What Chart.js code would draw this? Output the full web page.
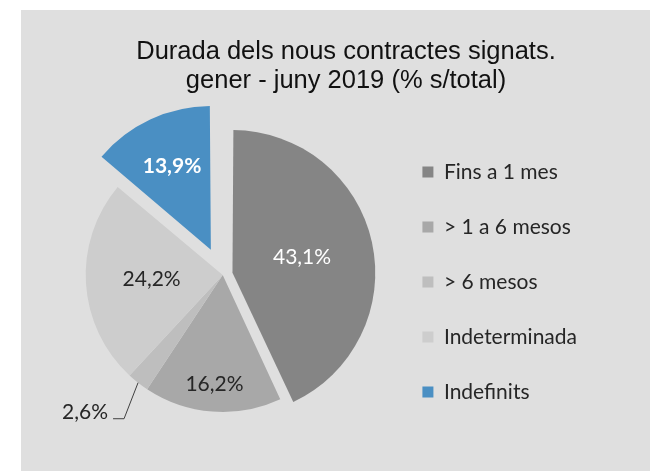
<!DOCTYPE html>
<html>
<head>
<meta charset="utf-8">
<script src="https://cdn.jsdelivr.net/npm/chart.js@4/dist/chart.umd.min.js"></script>
<style>
  html, body { margin: 0; padding: 0; background: #fff; overflow: hidden; }
  #panel {
    position: absolute;
    left: 21px;
    top: 10px;
    width: 629px;
    height: 461px;
    background: #dfdfdf;
  }
</style>
</head>
<body>
<div id="panel"><canvas id="durationChart"></canvas></div>
<script>
// Dades
const titleLines = ['Durada dels nous contractes signats.', 'gener - juny 2019 (% s/total)'];
const categories = ['Fins a 1 mes', '> 1 a 6 mesos', '> 6 mesos', 'Indeterminada', 'Indefinits'];
const shares = [43.1, 16.2, 2.6, 24.2, 13.9];

const sliceColors = ['#858585', '#a8a8a8', '#bebebe', '#cdcdcd', '#4a8fc3'];
// Chart.js moves an arc by offset / 4 (and grows it a bit too)
const sliceOffsets = [40, 0, 0, 0, 112];

// where each percentage sits: fraction of the radius, or a leader line for the thin slice
const labelPlacement = [
  { r: 0.52, color: '#ffffff', weight: 'normal' },
  { r: 0.80, color: '#262626', weight: 'normal' },
  { leader: { dx: -14, dy: 36, run: 11 }, color: '#262626', weight: 'normal' },
  { r: 0.52, color: '#262626', weight: 'normal' },
  { r: 0.67, color: '#ffffff', weight: 'bold' }
];

const fmt = v => v.toFixed(1).replace('.', ',') + '%';

// títol a mà: el títol de Chart.js queda centrat amb la llegenda inclosa
const titlePlugin = {
  id: 'titleLines',
  afterDraw(chart) {
    const ctx = chart.ctx;
    ctx.save();
    ctx.font = '25.5px "Liberation Sans", Arial, sans-serif';
    ctx.fillStyle = '#111111';
    ctx.textAlign = 'center';
    ctx.textBaseline = 'alphabetic';
    titleLines.forEach((line, i) => ctx.fillText(line, 325, 49 + i * 29));
    ctx.restore();
  }
};

const sliceLabels = {
  id: 'sliceLabels',
  afterDatasetsDraw(chart) {
    const ctx = chart.ctx;
    const meta = chart.getDatasetMeta(0);
    ctx.save();
    meta.data.forEach((arc, i) => {
      const p = arc.getProps(['x', 'y', 'startAngle', 'endAngle', 'outerRadius'], true);
      const mid = (p.startAngle + p.endAngle) / 2;
      const shift = (sliceOffsets[i] || 0) / 4;
      const cx = p.x + Math.cos(mid) * shift;
      const cy = p.y + Math.sin(mid) * shift;
      const place = labelPlacement[i];
      ctx.font = place.weight + ' 21px Lato, sans-serif';
      ctx.fillStyle = place.color;
      if (place.leader) {
        const ex = cx + Math.cos(mid) * p.outerRadius;
        const ey = cy + Math.sin(mid) * p.outerRadius;
        const kx = ex + place.leader.dx;
        const ky = ey + place.leader.dy;
        const hx = kx - place.leader.run;
        ctx.strokeStyle = '#404040';
        ctx.lineWidth = 1;
        ctx.beginPath();
        ctx.moveTo(ex, ey);
        ctx.lineTo(kx, ky);
        ctx.lineTo(hx, ky);
        ctx.stroke();
        ctx.textAlign = 'right';
        ctx.textBaseline = 'alphabetic';
        ctx.fillText(fmt(shares[i]), hx - 5, ky);
      } else {
        const d = p.outerRadius * place.r;
        ctx.textAlign = 'center';
        ctx.textBaseline = 'middle';
        ctx.fillText(fmt(shares[i]), cx + Math.cos(mid) * d, cy + Math.sin(mid) * d);
      }
    });
    ctx.restore();
  }
};

const ctx = document.getElementById('durationChart').getContext('2d');

const durationChart = new Chart(ctx, {
  type: 'pie',
  data: {
    labels: categories,
    datasets: [{
      data: shares,
      backgroundColor: sliceColors,
      borderWidth: 0,
      offset: sliceOffsets,
      hoverOffset: 0
    }]
  },
  options: {
    responsive: true,
    maintainAspectRatio: false,
    animation: false,
    radius: 137,
    layout: {
      padding: { left: 36, right: 63, top: 90, bottom: 21 }
    },
    plugins: {
      title: { display: false },
      tooltip: { enabled: false },
      legend: {
        position: 'right',
        // empty title only pushes the rows a little lower
        title: { display: true, text: '', padding: 0, font: { size: 14, lineHeight: 1 } },
        labels: {
          boxWidth: 11,
          boxHeight: 11,
          padding: 34,
          color: '#262626',
          font: { size: 21, family: 'Lato' }
        }
      }
    }
  },
  plugins: [sliceLabels, titlePlugin]
});
</script>
</body>
</html>
